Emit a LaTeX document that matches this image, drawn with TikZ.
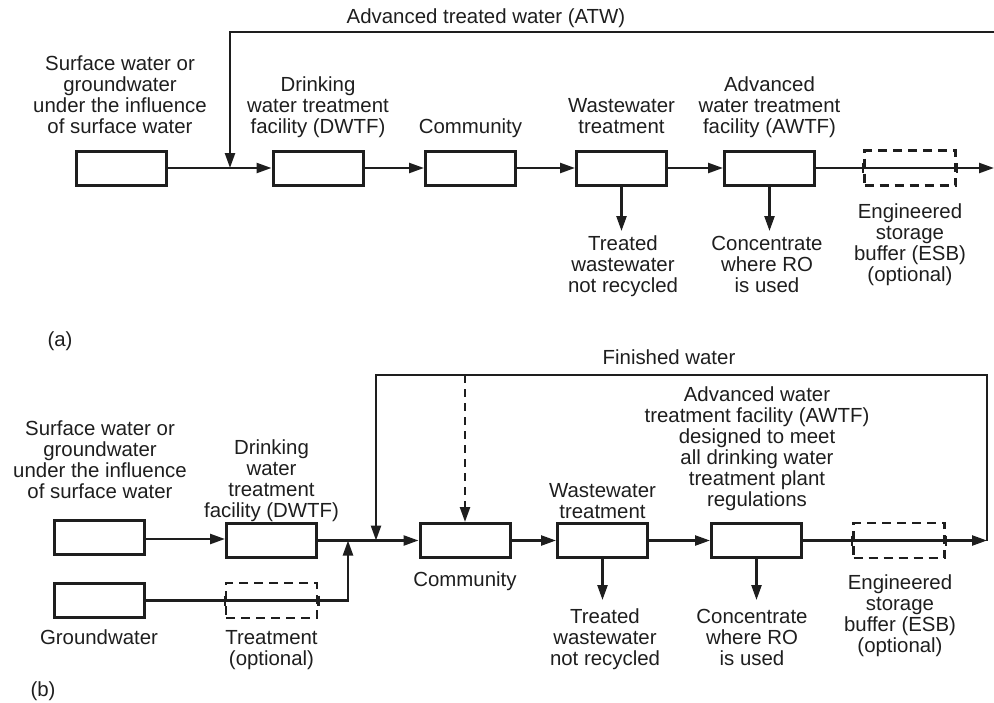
\documentclass[tikz,border=0pt]{standalone}
\usepackage{fontspec}
\setmainfont{Liberation Sans}
\usetikzlibrary{arrows.meta}
\definecolor{inkc}{RGB}{30,30,30}
\newcommand{\tstrut}{\rule{0pt}{15pt}}
\begin{document}
\begin{tikzpicture}[x=1pt,y=-1pt,
  box/.style={draw=inkc, line width=3pt, minimum width=90pt, minimum height=34pt, inner sep=0pt},
  dbox/.style={draw=inkc, line width=2.6pt, dash pattern=on 9pt off 6pt, minimum width=91pt, minimum height=35pt, inner sep=0pt},
  conn/.style={draw=inkc, line width=2.4pt},
  arr/.style={conn, -{Triangle[length=15pt,width=10pt]}},
  darr/.style={arr, dash pattern=on 8pt off 6pt},
  tick/.style={draw=inkc, line width=2.4pt},
  lbl/.style={align=center, inner sep=0pt, anchor=north, text=inkc, font=\fontsize{20.4pt}{21pt}\selectfont}]
\useasboundingbox (0,0) rectangle (994,702);

% ---------------- panel (a) ----------------
\node[box] (srcA) at (121.5,168) {};
\node[box] (dwtfA) at (318,168) {};
\node[box] (commA) at (470.5,168) {};
\node[box] (wwA) at (621.5,168) {};
\node[box] (awtfA) at (769.5,168) {};
\node[dbox] (esbA) at (910,168) {};

\coordinate (jA) at (230,168);
\coordinate (topRA) at (994,32);
\coordinate (endA) at (994,168);
\coordinate (outWwA) at (621.5,231);
\coordinate (outAwA) at (769.5,231);

\draw[arr] (srcA.east) -- (dwtfA.west);
\draw[arr] (dwtfA.east) -- (commA.west);
\draw[arr] (commA.east) -- (wwA.west);
\draw[arr] (wwA.east) -- (awtfA.west);
\draw[arr] (awtfA.east) -- (endA);
\draw[arr] (topRA) -| (jA);
\draw[arr] (wwA.south) -- (outWwA);
\draw[arr] (awtfA.south) -- (outAwA);
\draw[tick] ([yshift=5pt]esbA.west) -- ([yshift=-5pt]esbA.west);
\draw[tick] ([yshift=5pt]esbA.east) -- ([yshift=-5pt]esbA.east);

\node[lbl] (atw) at (486,8) {\tstrut Advanced treated water (ATW)};
\node[lbl] (srcAl) at (120,55) {\tstrut Surface water or\\groundwater\\under the influence\\of surface water};
\node[lbl] (dwtfAl) at (318,76) {\tstrut Drinking\\water treatment\\facility (DWTF)};
\node[lbl] (commAl) at (470.5,118) {\tstrut Community};
\node[lbl] (wwAl) at (621.5,97) {\tstrut Wastewater\\treatment};
\node[lbl] (awtfAl) at (769.5,76) {\tstrut Advanced\\water treatment\\facility (AWTF)};
\node[lbl] (twAl) at (623,235) {\tstrut Treated\\wastewater\\not recycled};
\node[lbl] (crAl) at (767,235) {\tstrut Concentrate\\where RO\\is used};
\node[lbl] (esbAl) at (910,203) {\tstrut Engineered\\storage\\buffer (ESB)\\(optional)};
\node[lbl] (tagA) at (60,331) {\tstrut (a)};

% ---------------- panel (b) ----------------
\node[box] (srcB) at (99,537.5) {};
\node[box] (gwB) at (99,600.5) {};
\node[box] (dwtfB) at (271.5,540.5) {};
\node[dbox] (treatB) at (271.5,600.5) {};
\node[box] (commB) at (465,540.5) {};
\node[box] (wwB) at (602.5,540.5) {};
\node[box] (awtfB) at (756.5,540.5) {};
\node[dbox] (esbB) at (899,540.5) {};

\coordinate (jB1) at (348,540.5);
\coordinate (jB2) at (376,540.5);
\coordinate (tlB) at (376,375);
\coordinate (trB) at (987,375);
\coordinate (endB) at (987,540.5);
\coordinate (dashTop) at (465,375);
\coordinate (outWwB) at (602.5,600);
\coordinate (outAwB) at (756.5,600);

\draw[arr] ([yshift=-1.5pt]srcB.east) -- ([yshift=-1.5pt]srcB.east -| dwtfB.west);
\draw[arr] (dwtfB.east) -- (commB.west);
\draw[arr] (commB.east) -- (wwB.west);
\draw[arr] (wwB.east) -- (awtfB.west);
\draw[arr] (awtfB.east) -- (endB);
\draw[arr] (endB) -- (trB) -- (tlB) -- (jB2);
\draw[arr] (gwB.east) -| (jB1);
\draw[darr] (dashTop) -- (commB.north);
\draw[arr] (wwB.south) -- (outWwB);
\draw[arr] (awtfB.south) -- (outAwB);
\draw[tick] ([yshift=5pt]esbB.west) -- ([yshift=-5pt]esbB.west);
\draw[tick] ([yshift=5pt]esbB.east) -- ([yshift=-5pt]esbB.east);
\draw[tick] ([yshift=5pt]treatB.west) -- ([yshift=-5pt]treatB.west);
\draw[tick] ([yshift=5pt]treatB.east) -- ([yshift=-5pt]treatB.east);

\node[lbl] (fin) at (669,349) {\tstrut Finished water};
\node[lbl] (srcBl) at (100,420) {\tstrut Surface water or\\groundwater\\under the influence\\of surface water};
\node[lbl] (dwtfBl) at (271.5,439) {\tstrut Drinking\\water\\treatment\\facility (DWTF)};
\node[lbl] (wwBl) at (602.5,482) {\tstrut Wastewater\\treatment};
\node[lbl] (awtfBl) at (757,386) {\tstrut Advanced water\\treatment facility (AWTF)\\designed to meet\\all drinking water\\treatment plant\\regulations};
\node[lbl] (commBl) at (465,571) {\tstrut Community};
\node[lbl] (gwl) at (99,629) {\tstrut Groundwater};
\node[lbl] (treatl) at (271.5,629) {\tstrut Treatment\\(optional)};
\node[lbl] (twBl) at (605,608) {\tstrut Treated\\wastewater\\not recycled};
\node[lbl] (crBl) at (752,608) {\tstrut Concentrate\\where RO\\is used};
\node[lbl] (esbBl) at (900,574) {\tstrut Engineered\\storage\\buffer (ESB)\\(optional)};
\node[lbl] (tagB) at (43,681) {\tstrut (b)};
\end{tikzpicture}
\end{document}
